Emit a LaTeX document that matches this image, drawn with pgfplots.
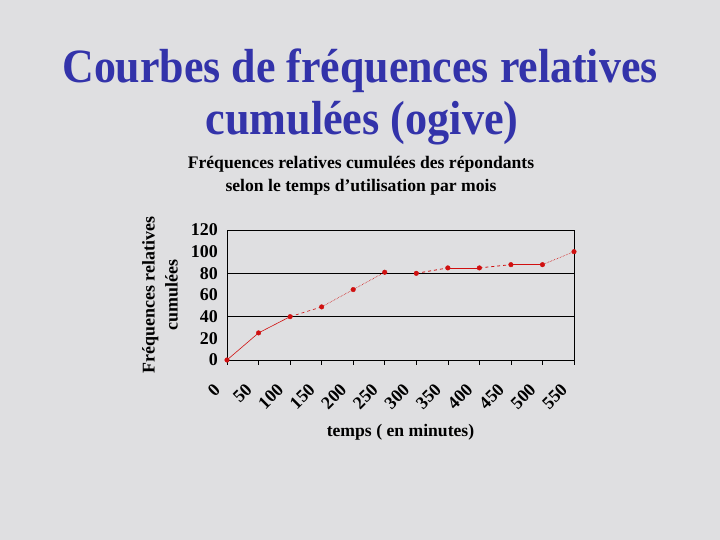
\documentclass[border=0pt]{standalone}
\usepackage{fontspec}
\setmainfont{Liberation Serif}
\usepackage{graphicx}
\usepackage{pgfplots}
\pgfplotsset{compat=1.18}
\definecolor{bg}{HTML}{DFDFE1}
\definecolor{titleblue}{HTML}{3333AA}
\definecolor{linered}{HTML}{D01010}
\begin{document}
\begin{tikzpicture}[x=1bp,y=1bp]
\fill[bg] (0,0) rectangle (720,540);
\node[anchor=base,font=\fontsize{48}{50}\selectfont\bfseries,text=titleblue] at (360,457) {\scalebox{0.918}[1]{Courbes de fréquences relatives}};
\node[anchor=base,font=\fontsize{48}{50}\selectfont\bfseries,text=titleblue] at (362,405) {\scalebox{0.925}[1]{cumulées (ogive)}};
\node[align=center,font=\fontsize{17.7}{23}\selectfont\bfseries] at (361,364) {Fréquences relatives cumulées des répondants\\selon le temps d'utilisation par mois};
\begin{axis}[
  at={(227bp,180bp)}, anchor=south west,
  scale only axis, width=347bp, height=130bp,
  xmin=0, xmax=11, ymin=0, ymax=120,
  xtick={0,1,...,11},
  xticklabels={0,50,100,150,200,250,300,350,400,450,500,550},
  ytick={0,20,...,120},
  /pgf/number format/assume math mode=true,
  ticklabel style={font=\fontsize{18}{18}\selectfont\bfseries},
  xticklabel style={xshift=-9bp, yshift=-21bp, rotate=45, anchor=east, inner sep=1bp},
  yticklabel style={inner sep=2bp, xshift=-7bp},
  x tick style={black, line width=0.6pt},
  xtick align=outside,
  major tick length=5bp,
  y tick style={draw=none},
  axis x line*=bottom,
  axis y line*=left,
  axis line style={black, line width=0.8pt},
  extra y ticks={40,80,120},
  extra y tick labels={},
  extra y tick style={grid=major, major grid style={black, line width=0.8pt}},
  clip=false,
  xlabel={temps ( en minutes)},
  xlabel style={font=\fontsize{17.7}{17.7}\selectfont\bfseries, at={(axis description cs:0.5,0)}, anchor=center, yshift=-72bp},
  ylabel={Fréquences relatives\\cumulées},
  ylabel style={align=center, font=\fontsize{18}{23}\selectfont\bfseries, at={(axis description cs:-0.193,0.5)}, anchor=center},
]
\draw[black, line width=0.8pt] (axis cs:11,0) -- (axis cs:11,120);
\addplot[linered, line width=0.6pt] coordinates {(0,0) (1,25) (2,40)};
\addplot[linered, line width=0.6pt, dashed] coordinates {(2,40) (3,49)};
\addplot[linered, line width=0.6pt, densely dotted] coordinates {(3,49) (4,65) (5,81)};
\addplot[linered, line width=0.8pt, dashed] coordinates {(6,80) (7,85)};
\addplot[linered, line width=0.8pt] coordinates {(7,85) (8,85)};
\addplot[linered, line width=0.8pt, dashed] coordinates {(8,85) (9,88)};
\addplot[linered, line width=0.8pt] coordinates {(9,88) (10,88)};
\addplot[linered, line width=0.6pt, densely dotted] coordinates {(10,88) (11,100)};
\addplot[only marks, mark=*, mark size=2.3bp, linered] coordinates {
(0,0) (1,25) (2,40) (3,49) (4,65) (5,81) (6,80) (7,85) (8,85) (9,88) (10,88) (11,100)};
\end{axis}
\end{tikzpicture}
\end{document}
